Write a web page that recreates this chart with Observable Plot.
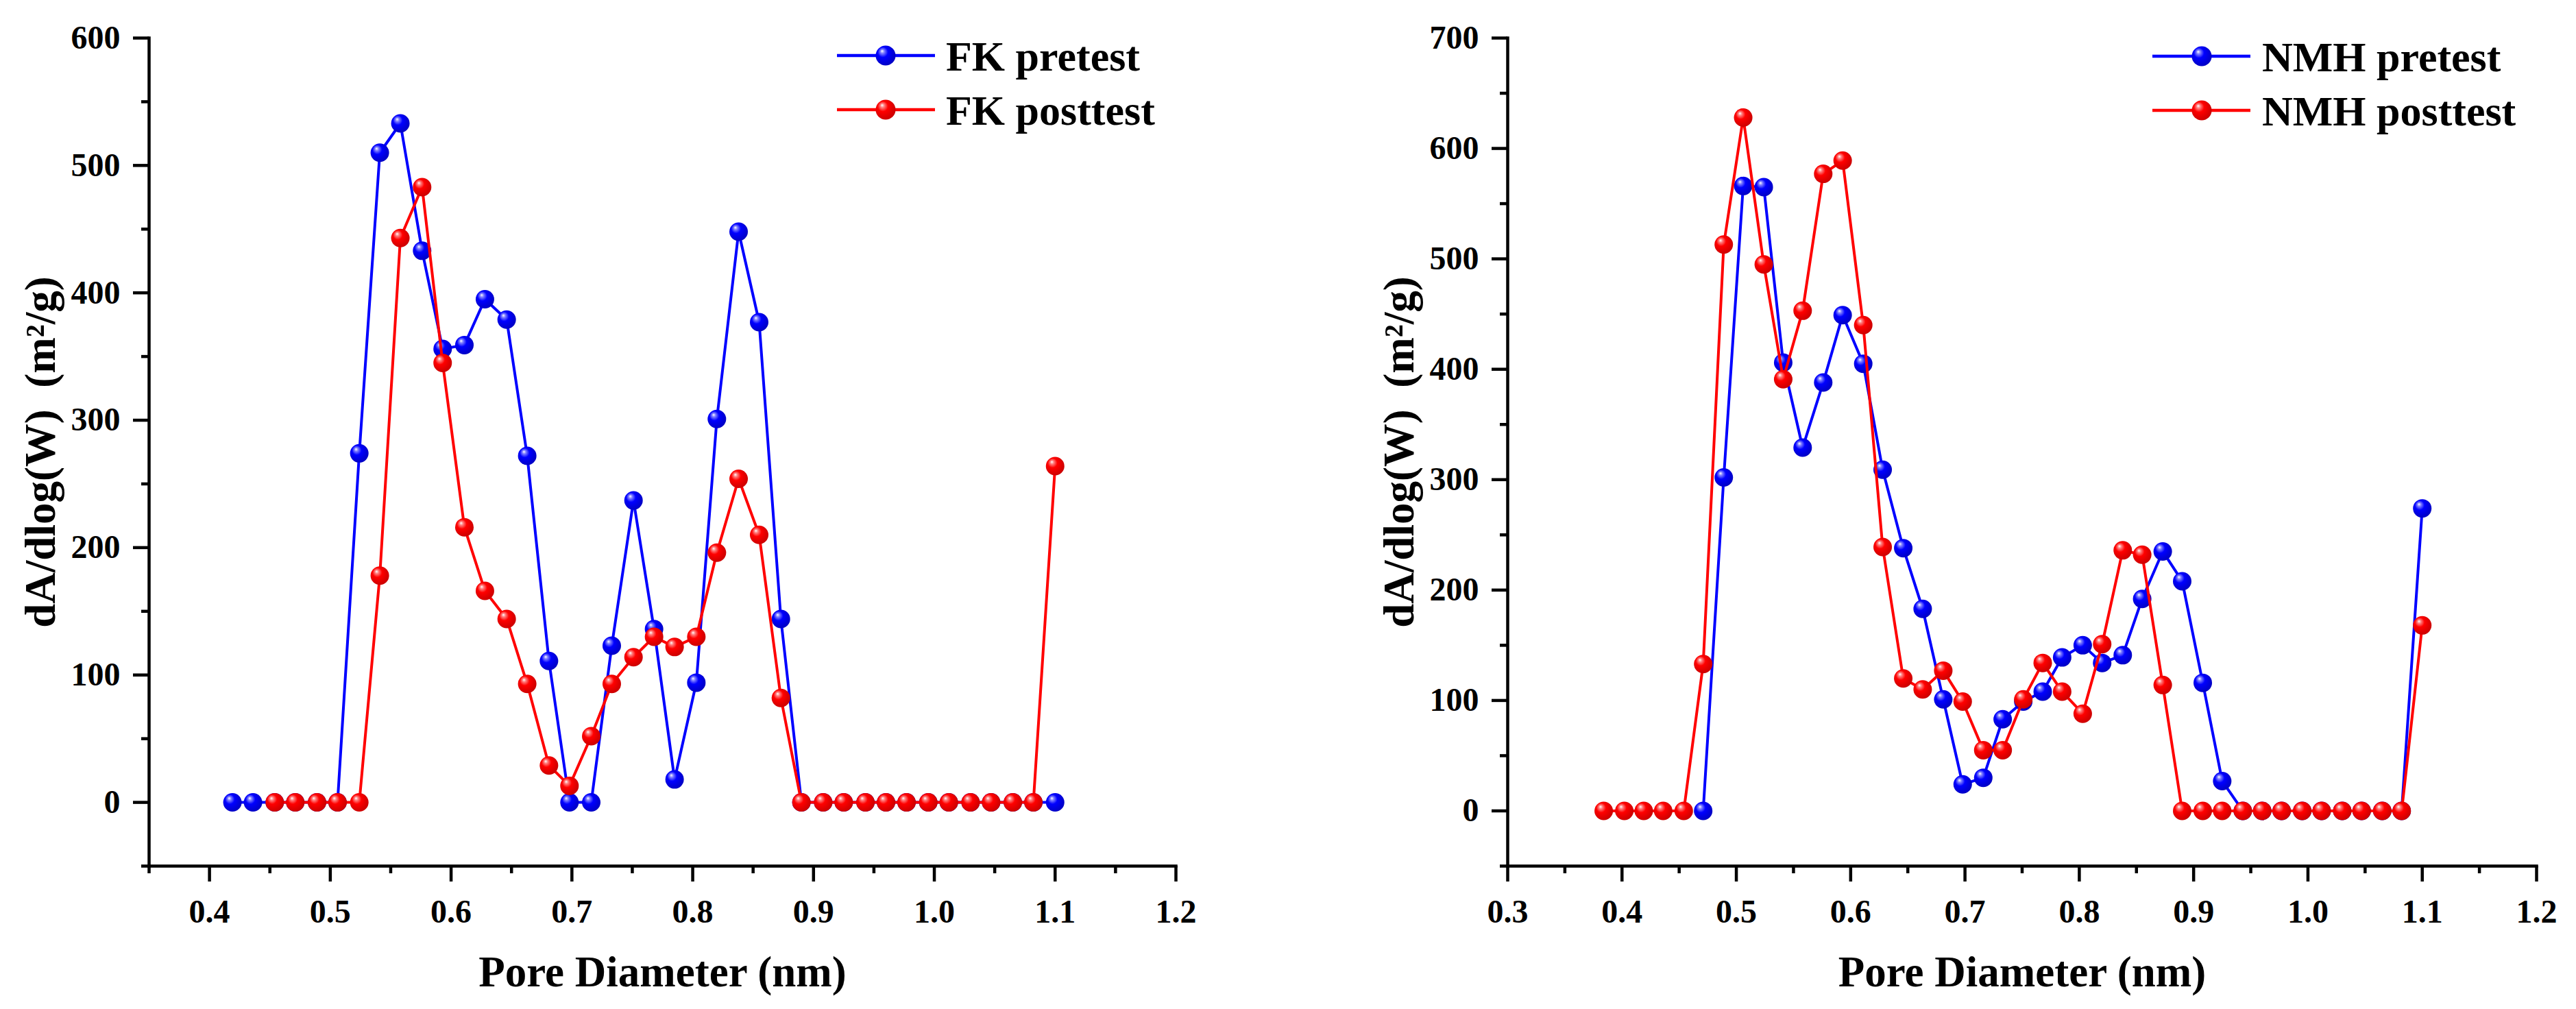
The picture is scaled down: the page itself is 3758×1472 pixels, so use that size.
<!DOCTYPE html>
<html>
<head>
<meta charset="utf-8">
<script src="https://cdn.jsdelivr.net/npm/d3@7"></script>
<script src="https://cdn.jsdelivr.net/npm/@observablehq/plot@0.6"></script>
<style>
  html, body { margin: 0; padding: 0; background: #fff; }
  #wrap { position: relative; width: 3758px; height: 1472px; overflow: hidden; background: #fff; }
  .panel { position: absolute; top: 0; }
  .panel svg { display: block; }
  g[aria-label="x-axis label"], g[aria-label="x-axis label"] text,
  g[aria-label="y-axis label"], g[aria-label="y-axis label"] text { font-size: 63px !important; }
  .legend { position: absolute; left: 0; top: 0; pointer-events: none; }
  .legend text { font-family: "Liberation Serif", "Times New Roman", serif; font-weight: bold; font-size: 62px; fill: #000; }
</style>
</head>
<body>
<svg width="0" height="0" style="position:absolute">
  <defs>
    <radialGradient id="ballBlue" cx="0.42" cy="0.42" r="0.62" fx="0.32" fy="0.27">
      <stop offset="0" stop-color="#ffffff"/>
      <stop offset="0.16" stop-color="#8080ff"/>
      <stop offset="0.42" stop-color="#0000ff"/>
      <stop offset="1" stop-color="#0000c0"/>
    </radialGradient>
    <radialGradient id="ballRed" cx="0.42" cy="0.42" r="0.62" fx="0.32" fy="0.27">
      <stop offset="0" stop-color="#ffffff"/>
      <stop offset="0.16" stop-color="#ff8080"/>
      <stop offset="0.42" stop-color="#ff0000"/>
      <stop offset="1" stop-color="#c80000"/>
    </radialGradient>
  </defs>
</svg>
<div id="wrap">
  <div class="panel" id="left" style="left:0px"></div>
  <div class="panel" id="right" style="left:1879px"></div>
  <svg class="legend" width="3758" height="260">
    <g>
      <line x1="1221" x2="1364" y1="81" y2="81" stroke="#0000ff" stroke-width="4.5"/>
      <circle cx="1292" cy="81" r="14.5" fill="url(#ballBlue)"/>
      <text x="1380" y="103" id="lg1"></text>
      <line x1="1221" x2="1364" y1="160" y2="160" stroke="#ff0000" stroke-width="4.5"/>
      <circle cx="1292" cy="160" r="14.5" fill="url(#ballRed)"/>
      <text x="1380" y="182" id="lg2"></text>
    </g>
    <g>
      <line x1="3140" x2="3283" y1="82" y2="82" stroke="#0000ff" stroke-width="4.5"/>
      <circle cx="3212" cy="82" r="14.5" fill="url(#ballBlue)"/>
      <text x="3300" y="104" id="lg3"></text>
      <line x1="3140" x2="3283" y1="161" y2="161" stroke="#ff0000" stroke-width="4.5"/>
      <circle cx="3212" cy="161" r="14.5" fill="url(#ballRed)"/>
      <text x="3300" y="183" id="lg4"></text>
    </g>
  </svg>
</div>
<script>
// ---------- Data ----------
const seriesNames = ["FK pretest", "FK posttest", "NMH pretest", "NMH posttest"];
const xLabel = "Pore Diameter (nm)";
const yLabel = "dA/dlog(W)\u00a0\u00a0(m²/g)";

const fkDiameter = [0.419, 0.436, 0.454, 0.471, 0.489, 0.506, 0.524, 0.541, 0.558, 0.576,
                    0.593, 0.611, 0.628, 0.646, 0.663, 0.681, 0.698, 0.716, 0.733, 0.751,
                    0.768, 0.785, 0.803, 0.820, 0.838, 0.855, 0.873, 0.890, 0.908, 0.925,
                    0.943, 0.960, 0.977, 0.995, 1.012, 1.030, 1.047, 1.065, 1.082, 1.100];
const fkPretest = [0, 0, 0, 0, 0, 0, 274, 510, 533, 433,
                   356, 359, 395, 379, 272, 111, 0, 0, 123, 237,
                   136, 18, 94, 301, 448, 377, 144, 0, 0, 0,
                   0, 0, 0, 0, 0, 0, 0, 0, 0, 0];
const fkPosttest = [null, null, 0, 0, 0, 0, 0, 178, 443, 483,
                    345, 216, 166, 144, 93, 29, 13, 52, 93, 114,
                    130, 122, 130, 196, 254, 210, 82, 0, 0, 0,
                    0, 0, 0, 0, 0, 0, 0, 0, 0, 264];

const nmhDiameter = [0.384, 0.402, 0.419, 0.436, 0.454, 0.471, 0.489, 0.506, 0.524, 0.541,
                     0.558, 0.576, 0.593, 0.611, 0.628, 0.646, 0.663, 0.681, 0.698, 0.716,
                     0.733, 0.751, 0.768, 0.785, 0.803, 0.820, 0.838, 0.855, 0.873, 0.890,
                     0.908, 0.925, 0.943, 0.960, 0.977, 0.995, 1.012, 1.030, 1.047, 1.065,
                     1.082, 1.100];
const nmhPretest = [null, null, null, null, null, 0, 302, 566, 565, 406,
                    329, 388, 449, 405, 309, 238, 183, 101, 24, 30,
                    83, 99, 108, 139, 150, 134, 141, 192, 235, 208,
                    116, 27, 0, 0, 0, 0, 0, 0, 0, 0,
                    0, 274];
const nmhPosttest = [0, 0, 0, 0, 0, 133, 513, 628, 495, 391,
                     453, 577, 589, 440, 239, 120, 110, 127, 99, 55,
                     55, 101, 134, 108, 88, 151, 236, 232, 114, 0,
                     0, 0, 0, 0, 0, 0, 0, 0, 0, 0,
                     0, 168];

// tick values
const fkXMajor = [0.4, 0.5, 0.6, 0.7, 0.8, 0.9, 1.0, 1.1, 1.2];
const fkXMinor = [0.35, 0.45, 0.55, 0.65, 0.75, 0.85, 0.95, 1.05, 1.15];
const fkYMajor = [0, 100, 200, 300, 400, 500, 600];
const fkYMinor = [-50, 50, 150, 250, 350, 450, 550];
const nmhXMajor = [0.3, 0.4, 0.5, 0.6, 0.7, 0.8, 0.9, 1.0, 1.1, 1.2];
const nmhXMinor = [0.35, 0.45, 0.55, 0.65, 0.75, 0.85, 0.95, 1.05, 1.15];
const nmhYMajor = [0, 100, 200, 300, 400, 500, 600, 700];
const nmhYMinor = [-50, 50, 150, 250, 350, 450, 550, 650];

const BLUE = "#0000ff", RED = "#ff0000";

function rows(xs, ys) {
  return xs.map((x, i) => ({x, y: ys[i]})).filter(d => d.y != null);
}

function panel({diam, pre, post, xDomain, yDomain, xMajor, xMinor, yMajor, yMinor, marginLeft, marginRight}) {
  const preRows = rows(diam, pre), postRows = rows(diam, post);
  const fmt = d3.format(".1f");
  return Plot.plot({
    width: 1879, height: 1472,
    marginTop: 55, marginBottom: 209, marginLeft, marginRight,
    style: {fontFamily: "'Liberation Serif', 'Times New Roman', serif", fontWeight: "bold", fontSize: "48px", color: "#000", background: "#fff", overflow: "visible"},
    x: {domain: xDomain},
    y: {domain: yDomain},
    marks: [
      Plot.axisX({ticks: xMajor, tickFormat: fmt, tickSize: 23, strokeWidth: 4.5, tickPadding: 25,
                  label: xLabel, labelAnchor: "center", labelArrow: "none", labelOffset: 175}),
      Plot.axisX({ticks: xMinor, tickFormat: () => null, tickSize: 11, strokeWidth: 4.5, label: null}),
      Plot.axisY({ticks: yMajor, tickFormat: d => String(d), tickSize: 23, strokeWidth: 4.5, tickPadding: 19,
                  label: yLabel, labelAnchor: "center", labelArrow: "none", labelOffset: 182}),
      Plot.axisY({ticks: yMinor, tickFormat: () => null, tickSize: 11, strokeWidth: 4.5, label: null}),
      Plot.frame({anchor: "left", strokeWidth: 4.5}),
      Plot.frame({anchor: "bottom", strokeWidth: 4.5}),
      Plot.line(preRows, {x: "x", y: "y", stroke: BLUE, strokeWidth: 4}),
      Plot.dot(preRows, {x: "x", y: "y", r: 13.5, fill: "url(#ballBlue)", stroke: "none"}),
      Plot.line(postRows, {x: "x", y: "y", stroke: RED, strokeWidth: 4}),
      Plot.dot(postRows, {x: "x", y: "y", r: 13.5, fill: "url(#ballRed)", stroke: "none"})
    ]
  });
}

document.getElementById("left").append(panel({
  diam: fkDiameter, pre: fkPretest, post: fkPosttest,
  xDomain: [0.35, 1.2], yDomain: [-50, 600],
  xMajor: fkXMajor, xMinor: fkXMinor, yMajor: fkYMajor, yMinor: fkYMinor,
  marginLeft: 217, marginRight: 164
}));
document.getElementById("right").append(panel({
  diam: nmhDiameter, pre: nmhPretest, post: nmhPosttest,
  xDomain: [0.3, 1.2], yDomain: [-50, 700],
  xMajor: nmhXMajor, xMinor: nmhXMinor, yMajor: nmhYMajor, yMinor: nmhYMinor,
  marginLeft: 320, marginRight: 58
}));

["lg1", "lg2", "lg3", "lg4"].forEach((id, i) => {
  document.getElementById(id).textContent = seriesNames[i];
});
</script>
</body>
</html>
